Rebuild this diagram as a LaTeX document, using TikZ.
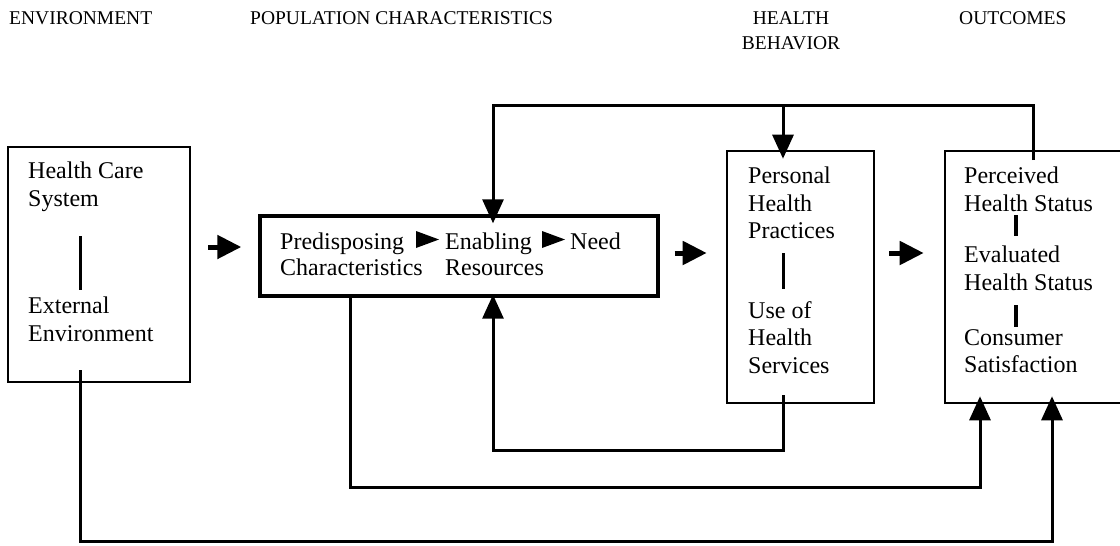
\documentclass[tikz,border=0pt]{standalone}
\usepackage{fontspec}
\setmainfont{Liberation Serif}
\usetikzlibrary{arrows.meta}

\newcommand{\bodyfont}{\fontsize{24}{27.5}\selectfont}
\newcommand{\headfont}{\fontsize{19.5}{25}\selectfont}

\tikzset{
  box/.style={draw, line width=2.6pt, inner sep=0pt},
  txt/.style={anchor=north west, align=left, inner sep=0pt, font=\bodyfont},
  head/.style={anchor=north west, inner sep=0pt, font=\headfont},
  link/.style={line width=3pt},
  tip/.style={-{Triangle[length=24pt,width=21pt]}},
  fatarrow/.style={line width=5pt, -{Triangle[length=24pt,width=23pt]}},
  sep/.style={line width=3pt}
}

\begin{document}
\begin{tikzpicture}[x=1pt, y=-1pt]
  \useasboundingbox (0,0) rectangle (1120,546);
  \clip (0,0) rectangle (1120,546);

  % headings
  \node[head] (henv) at (9,11) {ENVIRONMENT};
  \node[head] (hpop) at (250,11) {POPULATION CHARACTERISTICS};
  \node[head, anchor=north, align=center] (hbeh) at (791,11) {HEALTH\\BEHAVIOR};
  \node[head] (hout) at (959,11) {OUTCOMES};

  % boxes
  \node[box, minimum width=182pt, minimum height=235pt] (env) at (99,264.5) {};
  \node[box, line width=3.4pt, minimum width=398pt, minimum height=80pt] (pop) at (459,256) {};
  \node[box, minimum width=147pt, minimum height=252pt] (beh) at (800.5,277) {};
  \node[box, minimum width=190pt, minimum height=252pt] (out) at (1040,277) {};

  % box texts
  \node[txt] (hcs) at (28,162) {Health Care\\System};
  \node[txt] (ext) at (28,297) {External\\Environment};
  \draw[sep] (80,236) -- (80,290);

  \node[txt, font={\fontsize{24}{26}\selectfont}] (pred) at (280,233) {Predisposing\\Characteristics};
  \node[txt, font={\fontsize{24}{26}\selectfont}] (enab) at (445,233) {Enabling\\Resources};
  \node[txt] (need) at (570,233) {Need};
  \fill (416,231) -- (416,248) -- (439,239.5) -- cycle;
  \fill (542,231) -- (542,248) -- (565,239.5) -- cycle;

  \node[txt] (php) at (748,167) {Personal\\Health\\Practices};
  \node[txt] (uhs) at (748,301) {Use of\\Health\\Services};
  \draw[sep] (783,253) -- (783,289);

  \node[txt] (perc) at (964,167) {Perceived\\Health Status};
  \node[txt] (eval) at (964,246) {Evaluated\\Health Status};
  \node[txt] (cons) at (964,329) {Consumer\\Satisfaction};
  \draw[sep, line width=4pt] (1016,215) -- (1016,236);
  \draw[sep, line width=4pt] (1016,305) -- (1016,327);

  % forward arrows
  \draw[fatarrow, shorten <=17pt, shorten >=17pt] (env.east |- 0,247) -- (pop.west |- 0,247);
  \draw[fatarrow, shorten <=15pt, shorten >=19pt] (pop.east |- 0,253) -- (beh.west |- 0,253);
  \draw[fatarrow, shorten <=14pt, shorten >=20pt] (beh.east |- 0,253) -- (out.west |- 0,253);

  % feedback loops
  \coordinate (fb) at (1033,160);
  \coordinate (fbl) at (493,105);
  \coordinate (fbm) at (783,105);
  \draw[link, tip, shorten >=-9pt] (fb) |- (fbl) -- (fbl |- pop.north);
  \draw[link, tip, shorten >=-9pt] (fbm) -- (fbm |- beh.north);

  \coordinate (use) at (783,395);
  \coordinate (lb) at (493,450);
  \draw[link, tip, shorten >=-3pt] (use) |- (lb) -- (lb |- pop.south);

  \coordinate (pc) at (350,296);
  \coordinate (c2) at (980,487);
  \draw[link, tip, shorten >=-8pt] (pc) |- (c2) -- (c2 |- out.south);

  \coordinate (ee) at (80,370);
  \coordinate (c3) at (1052,541);
  \draw[link, tip, shorten >=-8pt] (ee) |- (c3) -- (c3 |- out.south);
\end{tikzpicture}
\end{document}
